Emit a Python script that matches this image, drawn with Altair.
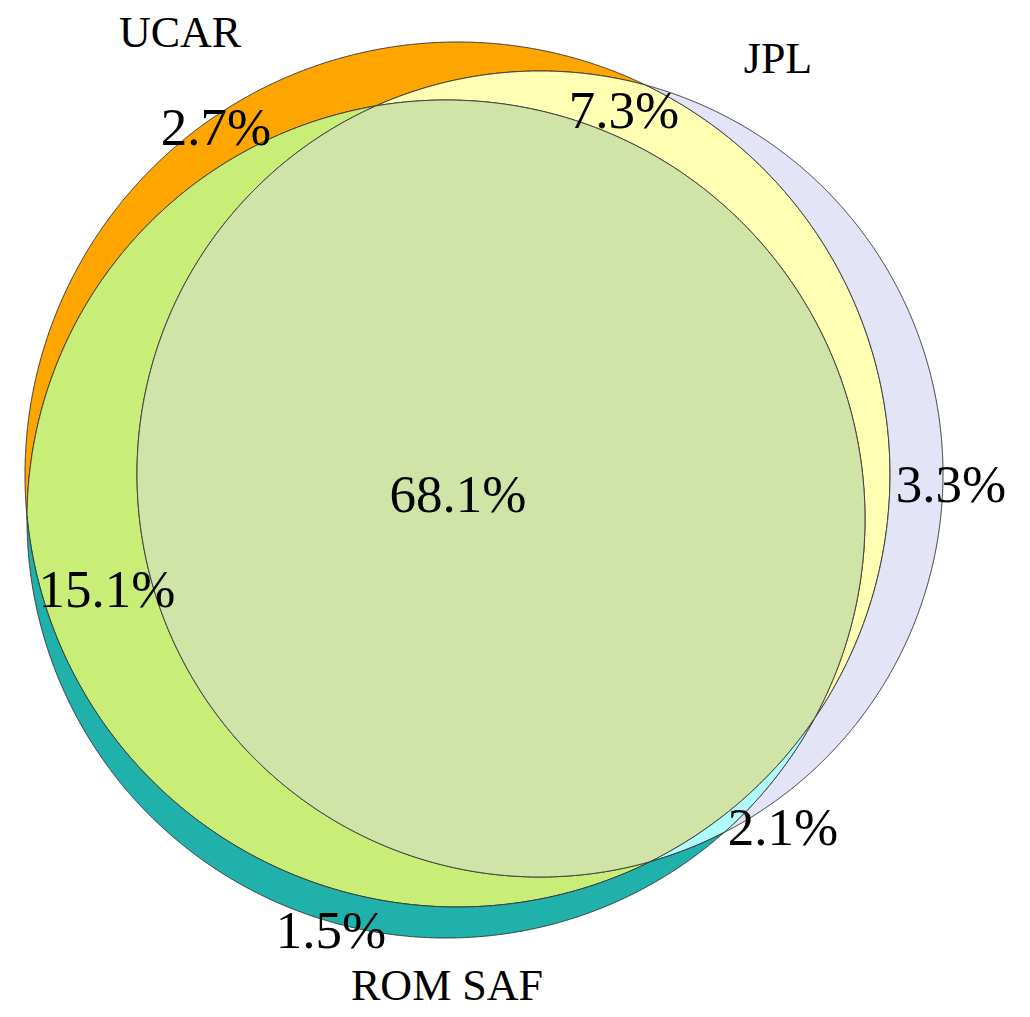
import numpy as np
import pandas as pd
import altair as alt

# ---- data -------------------------------------------------------------
set_names = ["UCAR", "JPL", "ROM SAF"]
# circle geometry (image pixel units)
circle_cx = [457.5, 540.0, 446.0]
circle_cy = [474.5, 474.0, 519.0]
circle_r = [432.5, 403.0, 419.0]

# regions: membership in (UCAR, JPL, ROM SAF)
region_members = [(1, 0, 0), (1, 1, 0), (0, 1, 0), (1, 0, 1), (1, 1, 1), (0, 1, 1), (0, 0, 1)]
region_values = [2.7, 7.3, 3.3, 15.1, 68.1, 2.1, 1.5]
region_ids = ["U", "UJ", "J", "UR", "UJR", "JR", "R"]
region_colors = ["#FFA500", "#FFFFB4", "#E4E4F8", "#C8EE78", "#D0E4A8", "#B0FCFC", "#20B2AA"]

# label anchor points (image pixel units)
pct_x = [216, 624, 951, 107, 458, 783, 331]
pct_y = [145, 128, 502, 607, 512, 845, 948]
name_x = [180, 778, 447]
name_y = [47, 73, 1000]

# ---- region outlines from circle arcs --------------------------------
N = 3000


def region_loops(member):
    arcs = []
    th = np.linspace(0, 2 * np.pi, N, endpoint=False)
    for k in range(3):
        px = circle_cx[k] + circle_r[k] * np.cos(th)
        py = circle_cy[k] + circle_r[k] * np.sin(th)
        ok = np.ones(N, bool)
        for j in range(3):
            if j == k:
                continue
            inside = (px - circle_cx[j]) ** 2 + (py - circle_cy[j]) ** 2 < circle_r[j] ** 2
            ok &= inside == bool(member[j])
        if not ok.any():
            continue
        if ok.all():
            runs = [list(range(N))]
        else:
            start = int(np.argmin(ok))
            order = np.roll(np.arange(N), -start)
            runs, cur = [], []
            for i in order:
                if ok[i]:
                    cur.append(i)
                elif cur:
                    runs.append(cur)
                    cur = []
            if cur:
                runs.append(cur)
        for run in runs:
            pts = [(px[i], py[i]) for i in run]
            if not member[k]:
                pts = pts[::-1]
            arcs.append(pts)
    loops = []
    while arcs:
        loop = list(arcs.pop(0))
        while arcs:
            ex, ey = loop[-1]
            d = [np.hypot(a[0][0] - ex, a[0][1] - ey) for a in arcs]
            m = int(np.argmin(d))
            dclose = np.hypot(loop[0][0] - ex, loop[0][1] - ey)
            if dclose < d[m]:
                break
            loop.extend(arcs.pop(m))
        loops.append(loop)
    return loops


rows = []
for rid, mem in zip(region_ids, region_members):
    for li, loop in enumerate(region_loops(mem)):
        for oi, (x, y) in enumerate(loop + [loop[0]]):
            rows.append({"region": rid, "loop": f"{rid}-{li}", "o": oi, "x": x, "y": y})
poly_df = pd.DataFrame(rows)

pct_df = pd.DataFrame({"label": [f"{v}%" for v in region_values], "x": pct_x, "y": pct_y})
name_df = pd.DataFrame({"label": set_names, "x": name_x, "y": name_y})

W, H = 1014, 1001
xs = alt.Scale(domain=[8, 8 + W], nice=False, zero=False)
ys = alt.Scale(domain=[8, 8 + H], nice=False, zero=False, reverse=True)

regions = alt.Chart(poly_df).mark_line(
    filled=True, stroke="#333333", strokeWidth=1, interpolate="linear"
).encode(
    x=alt.X("x:Q", scale=xs, axis=None),
    y=alt.Y("y:Q", scale=ys, axis=None),
    color=alt.Color("region:N", scale=alt.Scale(domain=region_ids, range=region_colors), legend=None),
    detail="loop:N",
    order="o:Q",
)

pcts = alt.Chart(pct_df).mark_text(
    font="Liberation Serif", fontSize=53, color="black", align="center", baseline="alphabetic"
).encode(x=alt.X("x:Q", scale=xs, axis=None), y=alt.Y("y:Q", scale=ys, axis=None), text="label:N")

names = alt.Chart(name_df).mark_text(
    font="Liberation Serif", fontSize=44, color="black", align="center", baseline="alphabetic"
).encode(x=alt.X("x:Q", scale=xs, axis=None), y=alt.Y("y:Q", scale=ys, axis=None), text="label:N")

chart = alt.layer(regions, pcts, names).properties(
    width=W, height=H, autosize="none", padding=0
).configure_view(stroke=None)

chart.save("out.html", embed_options={"renderer": "svg", "actions": False})
